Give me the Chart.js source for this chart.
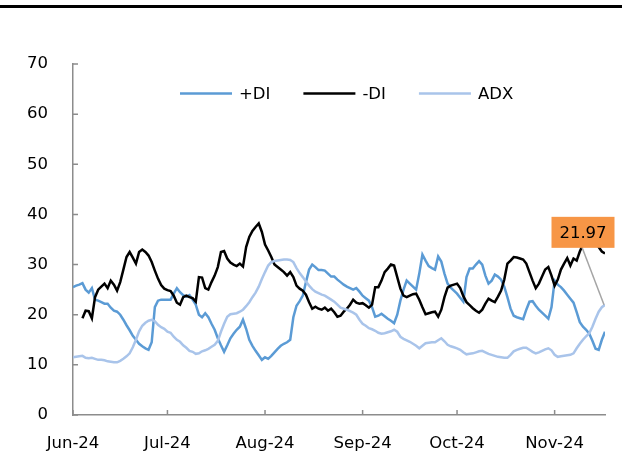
<!DOCTYPE html>
<html>
<head>
<meta charset="utf-8">
<script src="https://cdn.jsdelivr.net/npm/chart.js@4.4.0/dist/chart.umd.min.js"></script>
<style>
  html, body { margin: 0; padding: 0; background: #fff; }
  #wrap { position: relative; width: 622px; height: 454px; }
  #topRule { position: absolute; left: 0; top: 5px; width: 622px; height: 3px; background: #000; }
</style>
</head>
<body>
<div id="wrap">
  <div id="topRule"></div>
  <canvas id="adxChart" width="622" height="454"></canvas>
</div>
<script>
// daily values, day 0 = 1 Jun 2024
const plusDI = [
  25.5, 25.8, 26.0, 26.3, 25.0, 24.4, 25.3, 23.0, 22.8, 22.5,
  22.2, 22.2, 21.4, 20.8, 20.6, 20.0, 19.0, 17.9, 16.9, 15.8,
  15.0, 14.2, 13.7, 13.3, 13.0, 14.5, 21.5, 22.8, 23.0, 23.0,
  23.0, 23.0, 24.2, 25.3, 24.5, 23.9, 23.6, 23.9, 23.0, 22.0,
  20.0, 19.5, 20.3, 19.5, 18.2, 17.0, 15.3, 13.9, 12.6, 13.9,
  15.3, 16.2, 17.0, 17.6, 19.0, 17.2, 15.0, 13.8, 12.8, 11.9,
  11.0, 11.5, 11.2, 11.8, 12.5, 13.2, 13.8, 14.2, 14.5, 15.0,
  19.5, 21.8, 22.7, 23.8, 26.5, 29.0, 30.0, 29.5, 28.9, 28.9,
  28.8, 28.2, 27.6, 27.6, 27.0, 26.5, 26.0, 25.6, 25.3, 25.0,
  25.3, 24.6, 23.8, 23.3, 22.8, 21.5, 19.6, 19.8, 20.2, 19.7,
  19.2, 18.8, 18.3, 20.0, 22.8, 25.0, 26.8, 26.2, 25.6, 25.0,
  28.2, 32.0, 30.8, 29.7, 29.3, 29.0, 31.6, 30.6, 28.2, 26.2,
  25.4, 24.8, 24.2, 23.4, 22.6, 27.5, 29.2, 29.2, 30.0, 30.7,
  30.0, 27.8, 26.2, 26.8, 28.0, 27.6, 27.0, 25.6, 23.5, 21.2,
  19.8, 19.5, 19.3, 19.1, 21.0, 22.6, 22.7, 21.8, 21.0, 20.4,
  19.8, 19.2, 21.5, 26.8, 26.0, 25.5, 24.8, 24.0, 23.2, 22.4,
  20.5, 18.5, 17.6, 17.0, 16.2, 14.8, 13.2, 13.0, 15.0, 16.6
];
const minusDI = [
  null, null, null, 19.3, 20.8, 20.7, 19.3, 23.5, 25.0, 25.6,
  26.2, 25.3, 26.8, 26.0, 24.8, 26.5, 29.0, 31.5, 32.5, 31.4,
  30.2, 32.5, 33.0, 32.5, 31.8, 30.5, 28.8, 27.2, 25.9, 25.2,
  24.9, 24.7, 23.8, 22.4, 22.0, 23.5, 23.8, 23.5, 23.3, 22.6,
  27.5, 27.4, 25.3, 25.0, 26.5, 27.8, 29.5, 32.5, 32.7, 31.2,
  30.4, 30.0, 29.7, 30.2, 29.6, 33.5, 35.5, 36.7, 37.5, 38.2,
  36.5, 34.0, 32.8, 31.5, 30.0, 29.5, 29.0, 28.5, 27.8, 28.5,
  27.5, 25.8, 25.2, 24.8, 24.0, 22.5, 21.2, 21.6, 21.2, 21.0,
  21.4, 20.8, 21.2, 20.5, 19.6, 19.8, 20.6, 21.2, 22.0, 23.0,
  22.4, 22.2, 22.3, 21.9, 21.4, 22.0, 25.5, 25.5, 26.8, 28.5,
  29.2, 30.0, 29.8, 27.5, 25.2, 23.8, 23.5, 23.8, 24.1, 24.2,
  23.0, 21.5, 20.1, 20.3, 20.5, 20.6, 19.6, 21.0, 23.5, 25.4,
  25.8, 26.0, 26.2, 25.3, 23.7, 22.5, 21.9, 21.3, 20.8, 20.4,
  21.0, 22.2, 23.2, 22.8, 22.5, 23.6, 24.8, 27.0, 30.2, 30.8,
  31.5, 31.4, 31.2, 31.0, 30.2, 28.5, 26.8, 25.3, 26.2, 27.6,
  29.0, 29.5, 27.8, 25.8, 27.0, 29.0, 30.2, 31.3, 29.8, 31.2,
  30.8, 32.6, 34.0, 35.5, 36.5, 36.0, 35.0, 33.5, 32.6, 32.2
];
const adx = [
  11.5, 11.6, 11.7, 11.8, 11.4, 11.3, 11.4, 11.2, 11.0, 11.0,
  10.9, 10.7, 10.6, 10.5, 10.5, 10.8, 11.2, 11.7, 12.3, 13.5,
  15.0, 16.7, 17.8, 18.4, 18.8, 19.0, 18.7, 18.0, 17.5, 17.2,
  16.6, 16.4, 15.6, 15.0, 14.6, 13.9, 13.4, 12.8, 12.6, 12.2,
  12.3, 12.7, 12.9, 13.2, 13.6, 14.0, 14.8, 16.6, 18.2, 19.6,
  20.1, 20.2, 20.3, 20.6, 21.0, 21.7, 22.5, 23.5, 24.4, 25.6,
  27.1, 28.5, 29.8, 30.5, 30.7, 30.8, 30.9, 31.0, 31.0, 30.9,
  30.5, 29.3, 28.3, 27.5, 26.6, 25.8, 25.1, 24.6, 24.3, 24.0,
  23.8, 23.4, 23.0, 22.6, 22.0, 21.4, 21.2, 21.0, 20.7, 20.4,
  20.0, 19.0, 18.2, 17.8, 17.3, 17.1, 16.8, 16.4, 16.2, 16.3,
  16.5, 16.7, 17.0, 16.6, 15.6, 15.2, 14.9, 14.6, 14.2, 13.8,
  13.3, 13.8, 14.3, 14.4, 14.5, 14.5, 14.9, 15.3, 14.7, 14.0,
  13.7, 13.5, 13.3, 13.0, 12.5, 12.1, 12.2, 12.3, 12.5, 12.7,
  12.8, 12.5, 12.2, 12.0, 11.8, 11.6, 11.5, 11.4, 11.4, 12.0,
  12.7, 13.0, 13.2, 13.4, 13.4, 13.0, 12.6, 12.3, 12.5, 12.8,
  13.1, 13.3, 12.9, 12.0, 11.6, 11.7, 11.8, 11.9, 12.0, 12.3,
  13.3, 14.2, 15.0, 15.7, 16.3, 17.6, 19.2, 20.6, 21.5, 21.97
];
const monthTicks = [0, 30, 61, 92, 122, 153];
const monthLabels = ['Jun-24', 'Jul-24', 'Aug-24', 'Sep-24', 'Oct-24', 'Nov-24'];
const seriesNames = ['+DI', '-DI', 'ADX'];
const seriesColors = ['#5b9bd5', '#000000', '#a9c4ea'];

const days = plusDI.map((v, i) => i);
const axisGrey = '#8c8c8c';

Chart.defaults.font.family = '"DejaVu Sans", Verdana, sans-serif';
Chart.defaults.font.size = 16.5;
Chart.defaults.color = '#000';

// small inward tick marks like the original
const axisTicks = {
    id: 'axisTicks',
    beforeDatasetsDraw(chart) {
        const { ctx, scales: { x, y } } = chart;
        ctx.save();
        ctx.strokeStyle = axisGrey;
        ctx.lineWidth = 1.5;
        ctx.beginPath();
        y.ticks.forEach(t => {
            const py = y.getPixelForValue(t.value);
            ctx.moveTo(x.left, py);
            ctx.lineTo(x.left + 5, py);
        });
        x.ticks.forEach(t => {
            const px = x.getPixelForValue(t.value);
            ctx.moveTo(px, y.bottom);
            ctx.lineTo(px, y.bottom - 5);
        });
        ctx.stroke();
        ctx.restore();
    }
};

const lineLegend = {
    id: 'lineLegend',
    afterDraw(chart) {
        const ctx = chart.ctx;
        let px = 180;
        const py = 93.5;
        ctx.save();
        ctx.font = '16.5px "DejaVu Sans"';
        ctx.textBaseline = 'middle';
        chart.data.datasets.forEach(ds => {
            ctx.strokeStyle = ds.borderColor;
            ctx.lineWidth = 2.5;
            ctx.beginPath();
            ctx.moveTo(px, py);
            ctx.lineTo(px + 52, py);
            ctx.stroke();
            ctx.fillStyle = '#000';
            ctx.fillText(ds.label, px + 59, py + 1);
            px += 59 + ctx.measureText(ds.label).width + 33;
        });
        ctx.restore();
    }
};

const lastLabel = {
    id: 'lastLabel',
    afterDatasetsDraw(chart) {
        const ctx = chart.ctx;
        const meta = chart.getDatasetMeta(2);
        const pt = meta.data[meta.data.length - 1];
        const cx = pt.x - 22, cy = pt.y - 72.5;
        ctx.save();
        ctx.strokeStyle = '#a5a5a5';
        ctx.lineWidth = 1.5;
        ctx.beginPath();
        ctx.moveTo(cx - 1, cy + 15);
        ctx.lineTo(pt.x - 1, pt.y);
        ctx.stroke();
        ctx.fillStyle = '#f79646';
        ctx.fillRect(cx - 31.5, cy - 15.5, 63, 31);
        ctx.fillStyle = '#000';
        ctx.font = '16.5px "DejaVu Sans"';
        ctx.textAlign = 'center';
        ctx.textBaseline = 'middle';
        ctx.fillText(adx[adx.length - 1].toFixed(2), cx, cy + 1);
        ctx.restore();
    }
};

const ctx = document.getElementById('adxChart').getContext('2d');
new Chart(ctx, {
    type: 'line',
    data: {
        labels: days,
        datasets: [plusDI, minusDI, adx].map((values, i) => ({
            label: seriesNames[i],
            data: values,
            borderColor: seriesColors[i],
            backgroundColor: seriesColors[i],
            borderWidth: 2.5,
            pointRadius: 0,
            tension: 0,
            fill: false,
            order: 3 - i
        }))
    },
    options: {
        responsive: false,
        animation: false,
        layout: { padding: { top: 64, right: 17, bottom: 0, left: 0 } },
        plugins: {
            legend: { display: false },
            tooltip: { enabled: false }
        },
        scales: {
            x: {
                type: 'linear',
                min: 0,
                max: days.length - 1,
                afterBuildTicks: s => { s.ticks = monthTicks.map(v => ({ value: v })); },
                afterFit: s => { s.height = 39; },
                grid: { display: false },
                border: { color: axisGrey, width: 1.5 },
                ticks: {
                    padding: 11,
                    maxRotation: 0,
                    autoSkip: false,
                    callback: (v, i) => monthLabels[i]
                }
            },
            y: {
                min: 0,
                max: 70,
                afterFit: s => { s.width = 73; },
                grid: { display: false },
                border: { color: axisGrey, width: 1.5 },
                ticks: { stepSize: 10, padding: 17 }
            }
        }
    },
    plugins: [axisTicks, lineLegend, lastLabel]
});
</script>
</body>
</html>
